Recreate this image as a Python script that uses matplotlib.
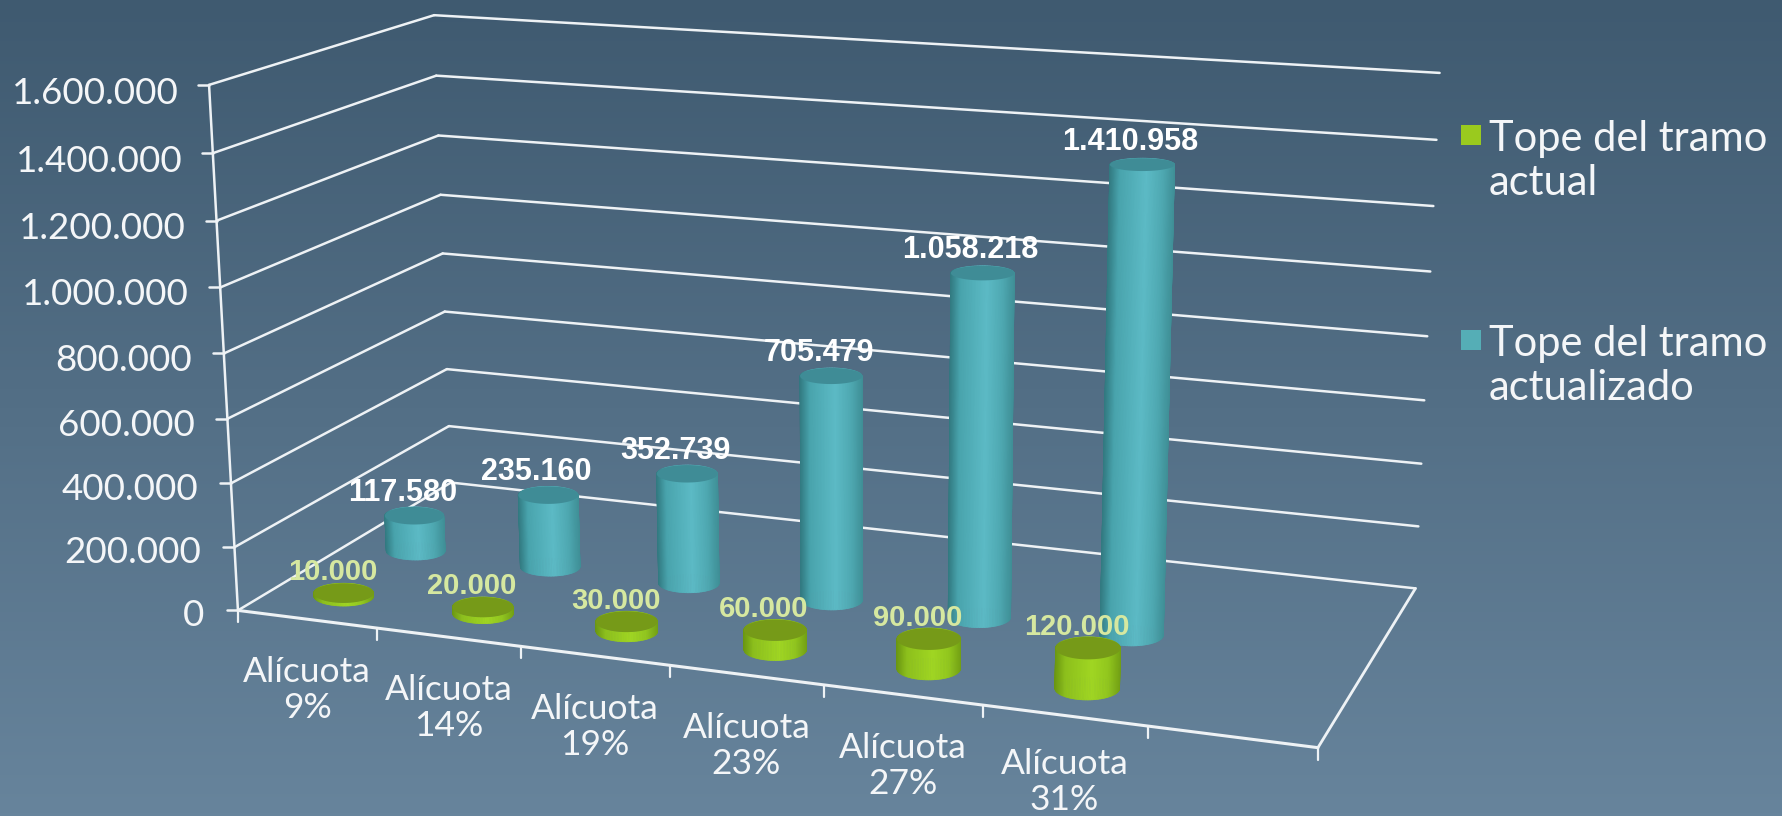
import numpy as np
import matplotlib
matplotlib.use("Agg")
import matplotlib.pyplot as plt
from matplotlib.collections import PolyCollection
from matplotlib.patches import Rectangle, Polygon

W, H = 1782, 816

# data
categorias = ["Alícuota\n9%", "Alícuota\n14%", "Alícuota\n19%", "Alícuota\n23%", "Alícuota\n27%", "Alícuota\n31%"]
tope_actual = [10000, 20000, 30000, 60000, 90000, 120000]
tope_actualizado = [117580, 235160, 352739, 705479, 1058218, 1410958]
ticks_y = [0, 200000, 400000, 600000, 800000, 1000000, 1200000, 1400000, 1600000]
leyenda = ["Tope del tramo\nactual", "Tope del tramo\nactualizado"]

VMAX = 1600000
N_CAT = 7  # the plot has one empty slot at the right

# pixel position of the box corners, (u, v, w) -> (x, y)
esquinas = [
    ((0, 0, 0), (236, 610)),
    ((1, 0, 0), (1318, 748)),
    ((0, 1, 0), (453, 483)),
    ((1, 1, 0), (1415, 588)),
    ((0, 0, 1), (211, 85)),
    ((0, 1, 1), (432, 15)),
    ((1, 1, 1), (1440, 73)),
]


def ajustar_camara(pts):
    A, b = [], []
    for (u, v, w), (x, y) in pts:
        A.append([u, v, w, 1, 0, 0, 0, 0, -x * u, -x * v, -x * w])
        A.append([0, 0, 0, 0, u, v, w, 1, -y * u, -y * v, -y * w])
        b += [x, y]
    p = np.linalg.lstsq(np.array(A, float), np.array(b, float), rcond=None)[0]
    return np.append(p, 1).reshape(3, 4)


CAM = ajustar_camara(esquinas)


def proy(u, v, valor):
    u, v, valor = np.broadcast_arrays(u, v, valor)
    q = np.stack([u, v, valor / VMAX, np.ones_like(u, dtype=float)])
    r = CAM @ q
    return r[0] / r[2], r[1] / r[2]


fig = plt.figure(figsize=(W / 100, H / 100), dpi=100)
ax = fig.add_axes([0, 0, 1, 1])
ax.set_xlim(0, W)
ax.set_ylim(H, 0)
ax.axis("off")

# background
arriba = np.array([63, 90, 112]) / 255
abajo = np.array([103, 132, 156]) / 255
t = np.linspace(0, 1, 256)[:, None, None]
ax.imshow(arriba + (abajo - arriba) * t, extent=[0, W, H, 0], aspect="auto", zorder=0)

LINEA = "#eef2f5"
FUENTE = ["Lato", "DejaVu Sans"]


def linea(p1, p2, lw=1.8):
    ax.plot([p1[0], p2[0]], [p1[1], p2[1]], color=LINEA, lw=lw, zorder=1, solid_capstyle="round")


# walls and grid
for val in ticks_y:
    fl, bl, br = proy(0, 0, val), proy(0, 1, val), proy(1, 1, val)
    linea(fl, bl)
    linea(bl, br)
    linea((fl[0] - 11, fl[1]), fl)
    frac = val / VMAX
    ax.text(fl[0] - 34 + 4 * frac, fl[1] + 5 + 4 * frac, f"{val:,}".replace(",", "."), color="#f4f6f8", fontsize=26.5,
            family=FUENTE, ha="right", va="center", zorder=6)
linea(proy(0, 0, 0), proy(0, 0, VMAX))

# floor
linea(proy(0, 0, 0), proy(1, 0, 0), lw=2.2)
linea(proy(1, 0, 0), proy(1, 1, 0), lw=2.0)
for i in range(N_CAT + 1):
    x, y = proy(i / N_CAT, 0, 0)
    linea((x, y), (x, y + 12), lw=1.6)

for i, cat in enumerate(categorias):
    x, y = proy((i + 0.5) / N_CAT, 0, 0)
    # the last label sits right on the bottom edge, keep it inside
    ax.text(x, min(y + 71, H - 34), cat, color="#f4f6f8", fontsize=25.5, family=FUENTE,
            ha="center", va="center", linespacing=1.15, zorder=6)

# cylinders
R_U = 0.029
R_V = 0.07
ANG = np.linspace(0, 2 * np.pi, 121)

TEAL = dict(pos=[0, 0.15, 0.55, 0.8, 1], col=["#327a81", "#49a4ad", "#5cbac5", "#4fa9b2", "#3f8f96"], tapa="#3f8c96")
VERDE = dict(pos=[0, 0.15, 0.55, 0.8, 1], col=["#6b9712", "#8dc01c", "#a0d622", "#92c71e", "#729f14"], tapa="#769a18")


def hex_rgb(c):
    return np.array(matplotlib.colors.to_rgb(c))


def sombra(t, estilo):
    cols = np.array([hex_rgb(c) for c in estilo["col"]])
    return [np.interp(t, estilo["pos"], cols[:, k]) for k in range(3)]


def elipse(u0, v0, valor):
    # flat ellipse on the screen, sized from the projected radii
    cx, cy = proy(u0, v0, valor)
    xa = proy(u0 - R_U, v0, valor)[0]
    xb = proy(u0 + R_U, v0, valor)[0]
    ya = proy(u0, v0 - R_V, valor)[1]
    yb = proy(u0, v0 + R_V, valor)[1]
    rx = 16 + 0.5 * (xb - xa) / 2  # the width barely changes from left to right
    return cx + rx * np.cos(ANG), cy - abs(ya - yb) / 2 * np.sin(ANG), cx, cy


def cilindro(i, v0, valor, estilo, z):
    u0 = (i + 0.5) / N_CAT
    xb, yb, _, _ = elipse(u0, v0, 0)
    xt, yt, cx, cy = elipse(u0, v0, valor)
    quads, colores = [], []
    orden = sorted(range(len(ANG) - 1), key=lambda k: -np.sin(ANG[k]))
    for k in orden:
        quads.append([(xb[k], yb[k]), (xb[k + 1], yb[k + 1]), (xt[k + 1], yt[k + 1]), (xt[k], yt[k])])
        colores.append(sombra((np.cos(ANG[k]) + 1) / 2, estilo))
    ax.add_collection(PolyCollection(quads, facecolors=colores, edgecolors=colores, linewidths=0.5, zorder=z))
    ax.add_patch(Polygon(np.c_[xt, yt], closed=True, facecolor=estilo["tapa"], edgecolor="none", zorder=z + 0.1))
    return cx, cy


V_VERDE = 0.16
V_TEAL = 0.495

for i, val in enumerate(tope_actualizado):
    x, y = cilindro(i, V_TEAL, val, TEAL, 2 + i * 0.2)
    ax.text(x - 12, y - 23, f"{val:,}".replace(",", "."), color="white", fontsize=22, weight="bold",
            family=["Liberation Sans", "DejaVu Sans"], ha="center", va="center", zorder=7)

for i, val in enumerate(tope_actual):
    x, y = cilindro(i, V_VERDE, val, VERDE, 4 + i * 0.2)
    ax.text(x - 11, y - 21, f"{val:,}".replace(",", "."), color="#d6e8a0", fontsize=21, weight="bold",
            family=["Liberation Sans", "DejaVu Sans"], ha="center", va="center", zorder=7)

# legend
for texto, y0, col in zip(leyenda, [125, 330], ["#9aca1e", "#55aeb6"]):
    ax.add_patch(Rectangle((1461, y0), 20, 20, facecolor=col, edgecolor="none", zorder=6))
    ax.text(1489, y0 + 36, texto, color="#f4f6f8", fontsize=30, family=FUENTE,
            ha="left", va="center", linespacing=1.2, zorder=6)

fig.savefig("out.png", dpi=100)
